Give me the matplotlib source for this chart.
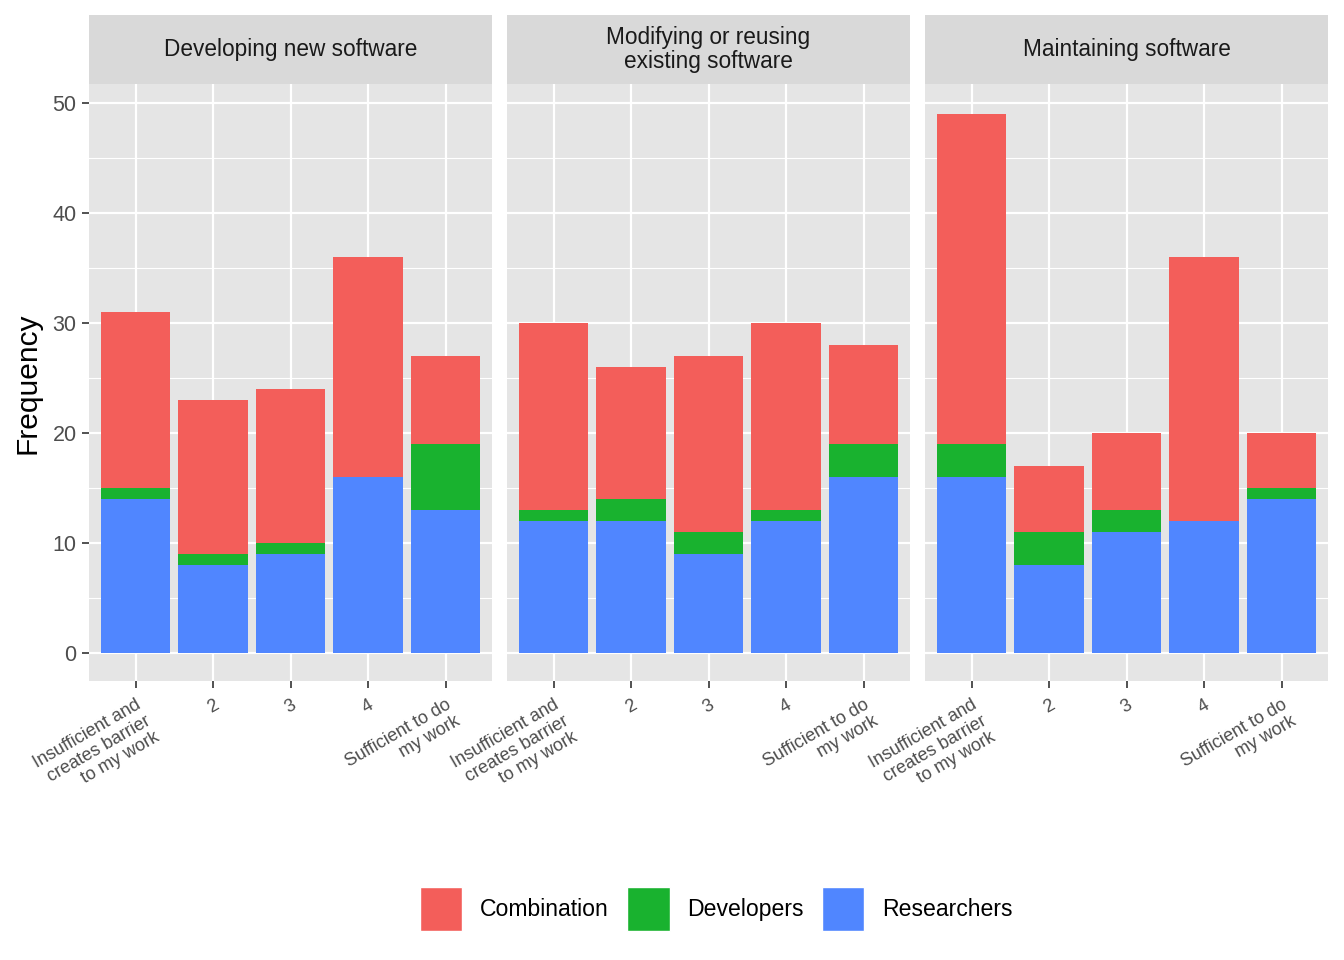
import matplotlib
matplotlib.use("Agg")
import matplotlib.pyplot as plt
from matplotlib.patches import Patch
import numpy as np

panels = ["Developing new software", "Modifying or reusing\nexisting software", "Maintaining software"]
categories = ["Insufficient and\ncreates barrier\nto my work", "2", "3", "4", "Sufficient to do\nmy work"]
researchers = [[14, 8, 9, 16, 13], [12, 12, 9, 12, 16], [16, 8, 11, 12, 14]]
developers = [[1, 1, 1, 0, 6], [1, 2, 2, 1, 3], [3, 3, 2, 0, 1]]
combination = [[16, 14, 14, 20, 8], [17, 12, 16, 17, 9], [30, 6, 7, 24, 5]]
series_names = ["Combination", "Developers", "Researchers"]
colors = {"Combination": "#F35E5A", "Developers": "#19B22F", "Researchers": "#5086FF"}

plt.rcParams['font.family'] = ['Liberation Sans', 'DejaVu Sans']
fig = plt.figure(figsize=(13.44, 9.6), dpi=100)
W, H = 1344, 960
lefts = [89, 507, 925]
pw = 403
top_strip = 15
strip_h = 69
plot_top = 84
plot_bot = 681

x = np.arange(1, 6)
for i in range(3):
    ax = fig.add_axes([lefts[i] / W, 1 - plot_bot / H, pw / W, (plot_bot - plot_top) / H])
    ax.set_facecolor("#E5E5E5")
    r = np.array(researchers[i]); d = np.array(developers[i]); c = np.array(combination[i])
    ax.bar(x, r, width=0.9, color=colors["Researchers"], zorder=3)
    ax.bar(x, d, bottom=r, width=0.9, color=colors["Developers"], zorder=3)
    ax.bar(x, c, bottom=r + d, width=0.9, color=colors["Combination"], zorder=3)
    ax.set_xlim(0.4, 5.6)
    ax.set_ylim(-2.54, 51.7)
    ax.set_yticks([0, 10, 20, 30, 40, 50])
    ax.set_yticks([5, 15, 25, 35, 45], minor=True)
    ax.set_xticks(x)
    ax.grid(True, which="major", color="white", linewidth=1.6, zorder=0)
    ax.grid(True, which="minor", axis="y", color="white", linewidth=0.8, zorder=0)
    for s in ax.spines.values():
        s.set_visible(False)
    ax.tick_params(axis="both", which="major", length=5, width=1.2, color="#333333", labelcolor="#4D4D4D")
    ax.tick_params(axis="y", which="minor", length=0)
    ax.tick_params(axis="y", labelsize=15.5, pad=4)
    ax.set_xticklabels(categories, rotation=30, ha="right", va="top", fontsize=13,
                       rotation_mode="anchor", multialignment="right", linespacing=1.12)
    ax.tick_params(axis="x", pad=6)
    if i > 0:
        ax.tick_params(axis="y", labelleft=False, length=0)
    sax = fig.add_axes([lefts[i] / W, 1 - (top_strip + strip_h) / H, pw / W, strip_h / H])
    sax.set_facecolor("#D9D9D9")
    sax.set_xticks([]); sax.set_yticks([])
    for s in sax.spines.values():
        s.set_visible(False)
    sax.text(0.5, 0.5, panels[i], ha="center", va="center", fontsize=16.3, color="#1A1A1A",
             transform=sax.transAxes, linespacing=1.1)

fig.text(27 / W, 1 - 383 / H, "Frequency", rotation=90, ha="center", va="center", fontsize=21.5)

handles = [Patch(facecolor=colors[n], edgecolor="white", label=n) for n in series_names]
fig.legend(handles=handles, loc="center", bbox_to_anchor=(716 / W, 1 - 909 / H), ncol=3,
           frameon=False, fontsize=16.6, handlelength=1.85, handleheight=2.55,
           handletextpad=0.75, columnspacing=0.8)

fig.savefig("out.png", dpi=100)
